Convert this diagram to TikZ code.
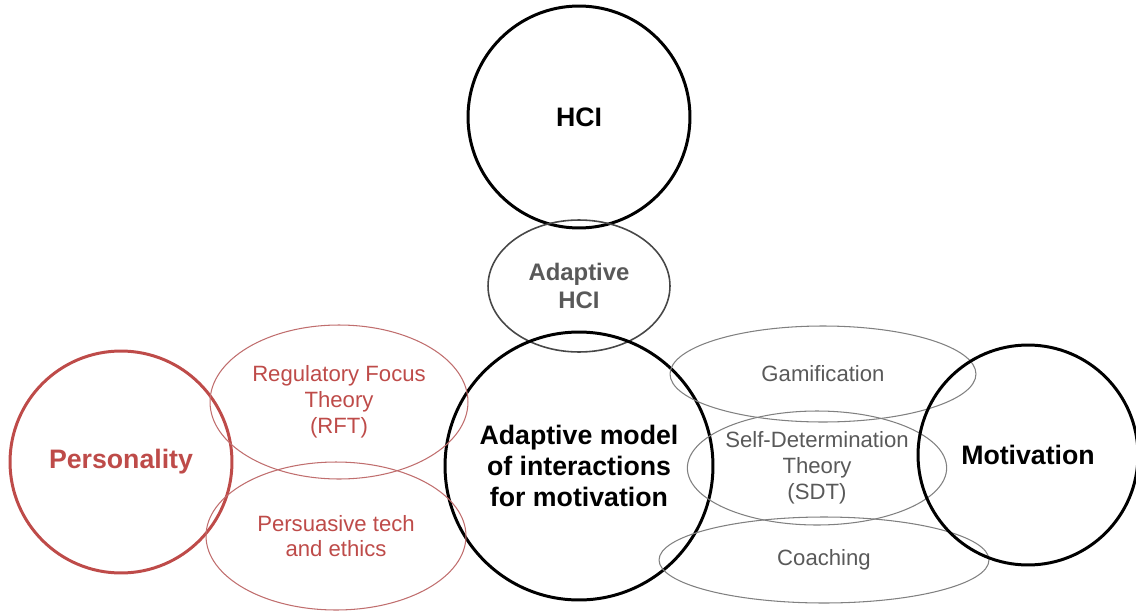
\documentclass[tikz,border=0pt]{standalone}
\usepackage{fontspec}
\setmainfont{Liberation Sans}
\usetikzlibrary{shapes.geometric}
\definecolor{persred}{RGB}{190,75,73}
\definecolor{lightred}{RGB}{192,110,110}
\definecolor{midgray}{RGB}{89,89,89}
\definecolor{linegray}{RGB}{128,128,128}

\begin{document}
\begin{tikzpicture}[x=0.02cm,y=-0.02cm]
\tikzstyle{bigcircle}=[circle,draw=black,line width=1.7pt,inner sep=0pt,align=center,font=\fontsize{15.2}{17.8}\selectfont\bfseries]
\tikzstyle{topic}=[ellipse,draw=linegray,line width=0.6pt,inner sep=0pt,align=center,text=midgray,font=\fontsize{12.6}{14.7}\selectfont]
\tikzstyle{redtopic}=[topic,draw=lightred,text=persred]
\useasboundingbox (0,0) rectangle (1136,612);
\node[bigcircle,minimum size=4.44cm] (hci) at (579,117) {HCI};
\node[ellipse,draw=midgray!80!black,line width=0.9pt,inner sep=0pt,minimum width=3.64cm,minimum height=2.64cm,align=center,text=midgray,font=\fontsize{13.6}{16.4}\selectfont\bfseries] (ahci) at (579,286) {Adaptive\\HCI};
\node[bigcircle,minimum size=5.36cm] (model) at (579,466) {Adaptive model\\of interactions\\for motivation};
\node[bigcircle,draw=persred,text=persred,minimum size=4.44cm] (pers) at (121,462) {Personality};
\node[redtopic,minimum width=5.16cm,minimum height=3.08cm] (rft) at (339,402) {Regulatory Focus\\Theory\\(RFT)};
\node[redtopic,minimum width=5.2cm,minimum height=2.96cm] (persu) at (336,536) {Persuasive tech\\and ethics};
\node[topic,minimum width=6.12cm,minimum height=1.92cm] (gam) at (823,374) {Gamification};
\node[topic,minimum width=5.12cm,minimum height=2.28cm] (sdt) at (817,468) {Self-Determination\\Theory\\(SDT)};
\node[topic,minimum width=6.6cm,minimum height=1.72cm] (coach) at (824,560) {Coaching};
\node[bigcircle,minimum size=4.4cm] (motiv) at (1028,455) {Motivation};
\end{tikzpicture}
\end{document}
